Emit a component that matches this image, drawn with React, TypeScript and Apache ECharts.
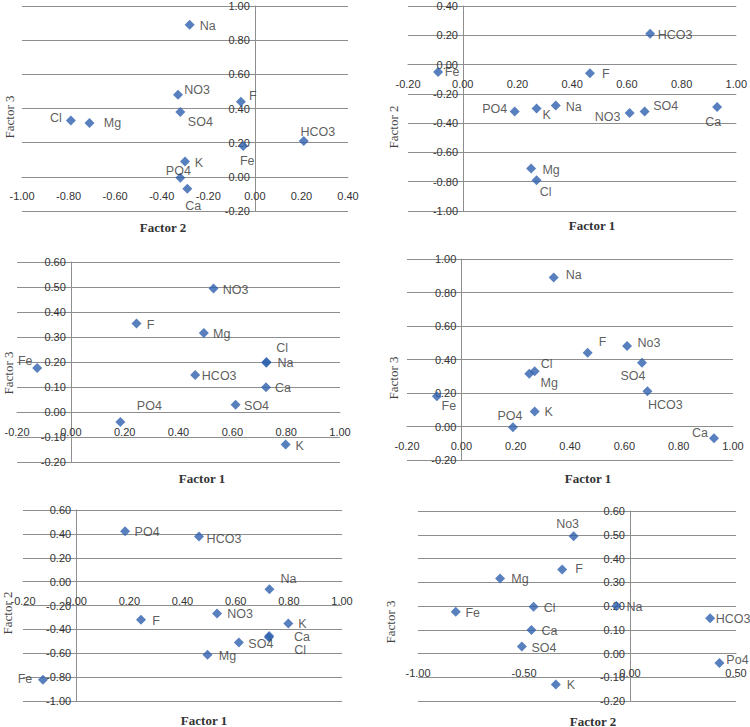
import React, { useEffect, useRef } from "react";
import * as echarts from "echarts";

// Ions (same order in every array)
const ions = ["Na", "NO3", "SO4", "F", "Cl", "Mg", "HCO3", "Fe", "K", "PO4", "Ca"];
const ionsAlt4 = ["Na", "No3", "SO4", "F", "Cl", "Mg", "HCO3", "Fe", "K", "PO4", "Ca"];
const ionsAlt6 = ["Na", "No3", "SO4", "F", "Cl", "Mg", "HCO3", "Fe", "K", "Po4", "Ca"];

// Solution A loadings (panels 1, 2, 4)
const a1 = [0.34, 0.61, 0.665, 0.465, 0.27, 0.25, 0.685, -0.09, 0.27, 0.19, 0.93];
const a2 = [-0.28, -0.33, -0.32, -0.06, -0.79, -0.71, 0.21, -0.05, -0.3, -0.32, -0.29];
const a3 = [0.89, 0.48, 0.38, 0.44, 0.33, 0.315, 0.21, 0.18, 0.09, -0.005, -0.07];

// Solution B loadings (panels 3, 5, 6)
const b1 = [0.727, 0.53, 0.612, 0.244, 0.726, 0.494, 0.462, -0.125, 0.798, 0.184, 0.725];
const b2 = [-0.064, -0.266, -0.51, -0.32, -0.455, -0.613, 0.378, -0.822, -0.35, 0.422, -0.465];
const b3 = [0.2, 0.494, 0.029, 0.354, 0.197, 0.316, 0.148, 0.176, -0.13, -0.04, 0.099];

// Axis ranges [min, max, interval]
const rangeNeg1to04 = [-1, 0.4, 0.2];
const rangeNeg02to1 = [-0.2, 1, 0.2];
const rangeNeg1to04y = [-1, 0.4, 0.2];
const rangeNeg02to06 = [-0.2, 0.6, 0.1];
const rangeNeg1to06 = [-1, 0.6, 0.2];
const rangeNeg1to05 = [-1, 0.5, 0.5];

// Label offsets (style) per panel, in ion order
const off1 = [[18, 1], [19, -5], [20, 10], [12, -6], [-15, -2], [23, 0], [14, -9], [4, 15], [14, 2], [-2, -7], [6, 17]];
const off2 = [[18, 1], [-22, 4], [21, -5], [16, 1], [9, 12], [20, 1], [25, 1], [14, 0], [10, 6], [-20, -2], [-4, 15]];
const off3 = [[19, 1], [22, 1], [21, 1], [14, 1], [16, -15], [18, 1], [24, 1], [-12, -7], [14, 1], [29, -16], [17, 1]];
const off4 = [[20, -2], [22, -3], [-9, 13], [15, -11], [12, -7], [20, 9], [18, 14], [12, 10], [14, 1], [-3, -11], [-14, -5]];
const off5 = [[19, -10], [23, 1], [22, 1], [15, 1], [31, 14], [20, 1], [25, 2], [-18, -1], [14, 1], [22, 1], [33, 0]];
const off6 = [[18, 1], [-6, -12], [22, 1], [17, 0], [16, 1], [20, 1], [23, 1], [17, 1], [15, 1], [18, -3], [18, 1]];

const panels = [
  { x: a2, y: a3, names: ions, off: off1, xr: rangeNeg1to04, yr: rangeNeg02to1,
    grid: { left: 22, top: 6, width: 326, height: 205 },
    xName: "Factor 2", xNamePos: [163, 227], yName: "Factor 3", yNamePos: [9, 117] },
  { x: a1, y: a2, names: ions, off: off2, xr: rangeNeg02to1, yr: rangeNeg1to04y,
    grid: { left: 408, top: 6, width: 330, height: 205 },
    xName: "Factor 1", xNamePos: [592, 225], yName: "Factor 2", yNamePos: [393, 127] },
  { x: b1, y: b3, names: ions, off: off3, xr: rangeNeg02to1, yr: rangeNeg02to06,
    grid: { left: 17, top: 262, width: 323, height: 200 },
    xName: "Factor 1", xNamePos: [202, 478], yName: "Factor 3", yNamePos: [8, 373] },
  { x: a1, y: a3, names: ionsAlt4, off: off4, xr: rangeNeg02to1, yr: rangeNeg02to1,
    grid: { left: 407, top: 259, width: 326, height: 201 },
    xName: "Factor 1", xNamePos: [588, 478], yName: "Factor 3", yNamePos: [393, 378] },
  { x: b1, y: b2, names: ions, off: off5, xr: rangeNeg02to1, yr: rangeNeg1to06,
    grid: { left: 23, top: 510, width: 319, height: 191 },
    xName: "Factor 1", xNamePos: [204, 720], yName: "Factor 2", yNamePos: [7, 613] },
  { x: b2, y: b3, names: ionsAlt6, off: off6, xr: rangeNeg1to05, yr: rangeNeg02to06,
    grid: { left: 418, top: 511, width: 318, height: 190 },
    xName: "Factor 2", xNamePos: [593, 721], yName: "Factor 3", yNamePos: [390, 622] },
];

const GRID_COLOR = "#8e8e8e";
const MARK_COLOR = "#2e60ae";
const fmt = (v: number) => (Math.abs(v) < 1e-9 ? "0.00" : v.toFixed(2));

export default function App() {
  const ref = useRef<HTMLDivElement>(null);
  useEffect(() => {
    if (!ref.current) return;
    const chart = echarts.init(ref.current, null, { renderer: "svg" });
    const grids: any[] = [];
    const xAxes: any[] = [];
    const yAxes: any[] = [];
    const series: any[] = [];
    const graphics: any[] = [];
    panels.forEach((p, i) => {
      grids.push({ ...p.grid, containLabel: false });
      // place axes where the other axis is zero (Excel "axis crosses at 0")
      const xOff = -p.grid.height * (0 - p.yr[0]) / (p.yr[1] - p.yr[0]);
      const yOff = -p.grid.width * (0 - p.xr[0]) / (p.xr[1] - p.xr[0]);
      xAxes.push({
        type: "value", gridIndex: i, min: p.xr[0], max: p.xr[1], interval: p.xr[2],
        position: "bottom", offset: xOff,
        axisLine: { show: true, onZero: false, lineStyle: { color: GRID_COLOR, width: 1 } },
        axisTick: { show: false },
        splitLine: { show: false },
        axisLabel: { formatter: fmt, margin: 14, color: "#333", fontSize: 11, fontFamily: "Liberation Sans" },
      });
      yAxes.push({
        type: "value", gridIndex: i, min: p.yr[0], max: p.yr[1], interval: p.yr[2],
        position: "left", offset: yOff,
        axisLine: { show: true, onZero: false, lineStyle: { color: GRID_COLOR, width: 1 } },
        axisTick: { show: false },
        splitLine: { show: true, lineStyle: { color: GRID_COLOR, width: 1 } },
        axisLabel: { formatter: fmt, margin: 5, color: "#333", fontSize: 11, fontFamily: "Liberation Sans" },
      });
      series.push({
        type: "scatter", xAxisIndex: i, yAxisIndex: i,
        symbol: "diamond", symbolSize: 10,
        itemStyle: { color: MARK_COLOR },
        data: p.names.map((n, k) => ({
          name: n,
          value: [p.x[k], p.y[k]],
          label: {
            show: true, position: "inside", offset: p.off[k],
            formatter: n, color: "#333", fontSize: 12.5, fontFamily: "Liberation Sans",
            align: "center", verticalAlign: "middle",
          },
        })),
      });
      graphics.push({
        type: "text", x: p.xNamePos[0], y: p.xNamePos[1],
        style: { text: p.xName, font: "bold 13px 'Liberation Serif'", fill: "#333", align: "center", verticalAlign: "middle" },
      });
      graphics.push({
        type: "text", x: p.yNamePos[0], y: p.yNamePos[1], rotation: Math.PI / 2,
        style: { text: p.yName, font: "13px 'Liberation Serif'", fill: "#444", align: "center", verticalAlign: "middle" },
      });
    });
    chart.setOption({
      animation: false,
      backgroundColor: "#ffffff",
      grid: grids,
      xAxis: xAxes,
      yAxis: yAxes,
      series,
      graphic: graphics,
    });
    return () => chart.dispose();
  }, []);
  return <div ref={ref} style={{ position: "fixed", left: 0, top: 0, width: 750, height: 727, background: "#fff" }} />;
}
